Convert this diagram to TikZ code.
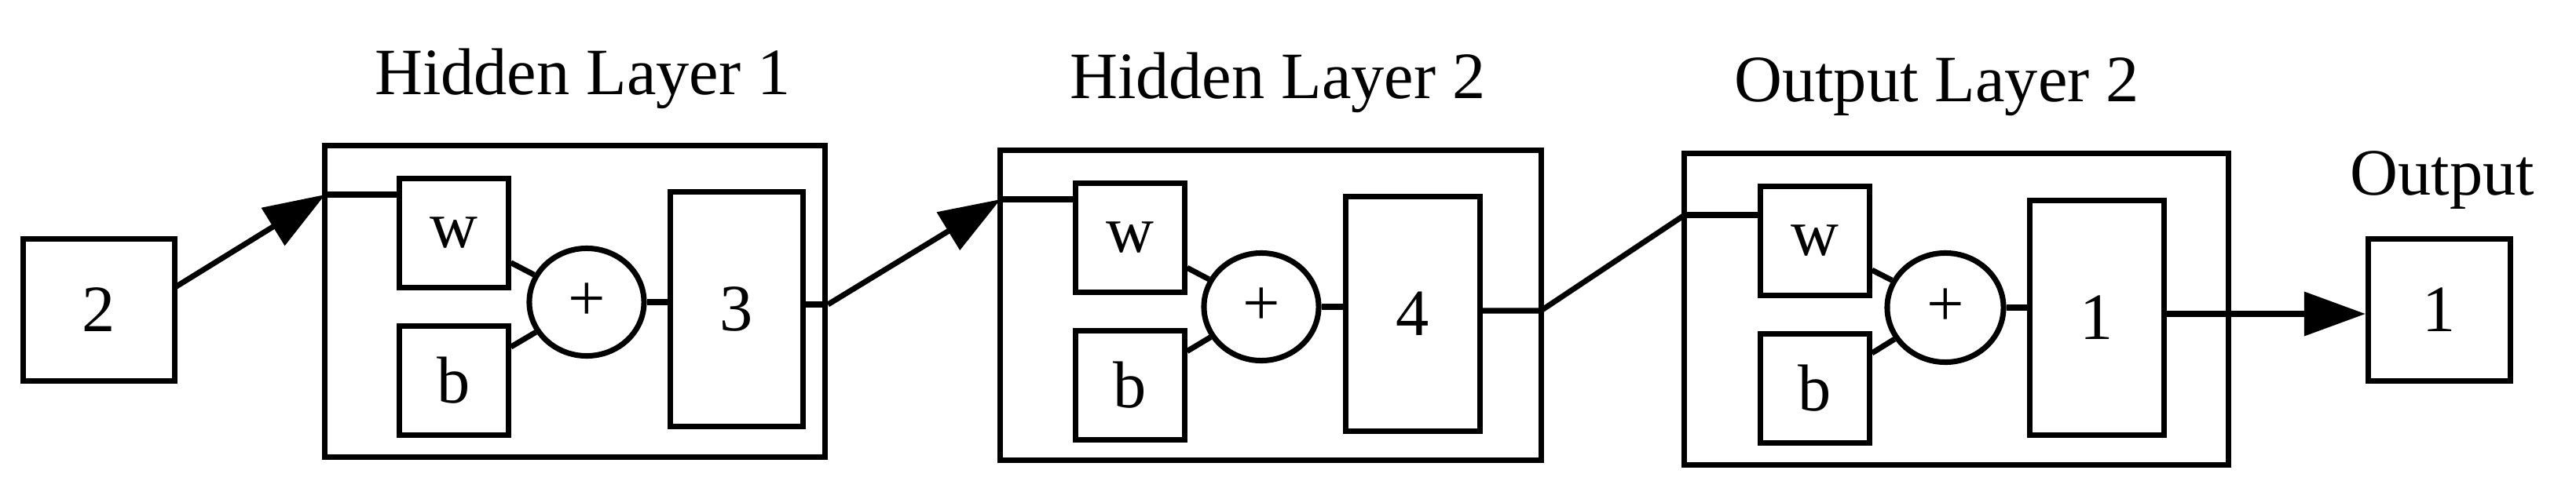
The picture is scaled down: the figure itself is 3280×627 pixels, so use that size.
\documentclass[tikz,border=0pt]{standalone}
\usepackage{fontspec}
\setmainfont{Liberation Serif}
\usetikzlibrary{arrows.meta,shapes.geometric}
\begin{document}
\begin{tikzpicture}[x=0.01cm,y=-0.01cm,line width=2pt,
  box/.style={draw,rectangle,inner sep=0pt},
  sum/.style={draw,ellipse,inner sep=0pt},
  txt/.style={font=\fontsize{24}{28}\selectfont},
  arr/.style={-{Triangle[length=0.78cm,width=0.55cm]}},
  every node/.style={txt}]
\useasboundingbox (0,0) rectangle (3280,627);
% input
\node[box,minimum width=1.93cm,minimum height=1.81cm] (in) at (126,395) {2};
% layer 1
\node[box,minimum width=6.37cm,minimum height=3.96cm] (L1) at (732,384) {};
\node[box,minimum width=1.38cm,minimum height=1.38cm] (w1) at (578,297) {w};
\node[box,minimum width=1.38cm,minimum height=1.38cm] (b1) at (578,485) {b};
\node[sum,minimum width=1.46cm,minimum height=1.37cm] (s1) at (747,385) {+};
\node[box,minimum width=1.69cm,minimum height=2.99cm] (n1) at (938,394) {3};
\node[anchor=base] (t1) at (742,120) {Hidden Layer 1};
% layer 2
\node[box,minimum width=6.88cm,minimum height=3.94cm] (L2) at (1618,389) {};
\node[box,minimum width=1.38cm,minimum height=1.38cm] (w2) at (1439,303) {w};
\node[box,minimum width=1.38cm,minimum height=1.38cm] (b2) at (1439,491) {b};
\node[sum,minimum width=1.46cm,minimum height=1.37cm] (s2) at (1606,391) {+};
\node[box,minimum width=1.70cm,minimum height=2.99cm] (n2) at (1799,400) {4};
\node[anchor=base] (t2) at (1627,125) {Hidden Layer 2};
% layer 3
\node[box,minimum width=6.92cm,minimum height=3.96cm] (L3) at (2491,394) {};
\node[box,minimum width=1.38cm,minimum height=1.38cm] (w3) at (2311,307) {w};
\node[box,minimum width=1.38cm,minimum height=1.38cm] (b3) at (2311,495) {b};
\node[sum,minimum width=1.48cm,minimum height=1.39cm] (s3) at (2477,392) {+};
\node[box,minimum width=1.71cm,minimum height=2.98cm] (n3) at (2670,405) {1};
\node[anchor=base] (t3) at (2466,129) {Output Layer 2};
% output
\node[box,minimum width=1.81cm,minimum height=1.81cm] (out) at (3106,395) {1};
\node[anchor=base] (t4) at (3110,248) {Output};
% coordinates
\coordinate (e1) at (414,248);
\coordinate (e2) at (1274,254);
\coordinate (e3) at (2145,274);
\coordinate (x1) at (1023,388);
\coordinate (x2) at (1962,396);
\coordinate (x3) at (2756,400);
\coordinate (i0) at (223,366);
% connectors
\draw[arr] (i0) -- (e1);
\draw (e1) -- (w1.west |- e1);
\draw (w1) -- (s1); \draw (b1) -- (s1); \draw (s1) -- (s1.east -| n1.west);
\draw (x1) -- (L1.east |- x1);
\draw[arr] (L1.east |- x1) -- (e2);
\draw (e2) -- (w2.west |- e2);
\draw (w2) -- (s2); \draw (b2) -- (s2); \draw (s2) -- (s2.east -| n2.west);
\draw (n2.east |- x2) -- (x2) -- (e3);
\draw (e3) -- (w3.west |- e3);
\draw (w3) -- (s3); \draw (b3) -- (s3); \draw (s3) -- (s3.east -| n3.west);
\draw[arr] (x3) -- (out.west |- x3);
\end{tikzpicture}
\end{document}
